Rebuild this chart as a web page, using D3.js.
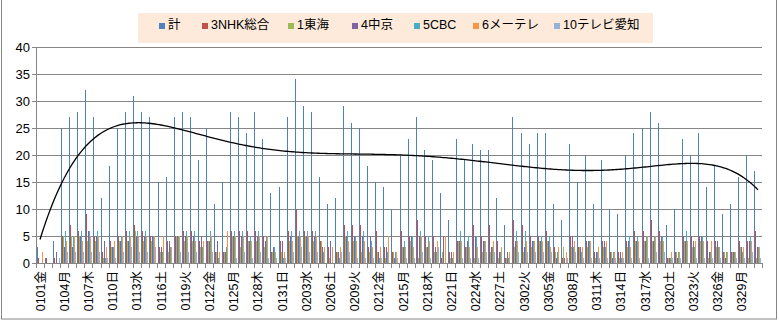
<!DOCTYPE html>
<html><head><meta charset="utf-8">
<script src="https://cdn.jsdelivr.net/npm/d3@7"></script>
<style>
html,body{margin:0;padding:0;background:#fff;}
svg{display:block;}
text{font-family:"Liberation Sans",Arial,"Noto Sans CJK JP",sans-serif;}
</style></head>
<body>
<svg id="chart" width="779" height="324"></svg>
<script>
const categories = [
"0101金","0102土","0103日","0104月","0105火","0106水","0107木","0108金","0109土","0110日",
"0111月","0112火","0113水","0114木","0115金","0116土","0117日","0118月","0119火","0120水",
"0121木","0122金","0123土","0124日","0125月","0126火","0127水","0128木","0129金","0130土",
"0131日","0201月","0202火","0203水","0204木","0205金","0206土","0207日","0208月","0209火",
"0210水","0211木","0212金","0213土","0214日","0215月","0216火","0217水","0218木","0219金",
"0220土","0221日","0222月","0223火","0224水","0225木","0226金","0227土","0228日","0301月",
"0302火","0303水","0304木","0305金","0306土","0307日","0308月","0309火","0310水","0311木",
"0312金","0313土","0314日","0315月","0316火","0317水","0318木","0319金","0320土","0321日",
"0322月","0323火","0324水","0325木","0326金","0327土","0328日","0329月","0330火","0331水"];

const seriesNames = ["計","3NHK総合","1東海","4中京","5CBC","6メーテレ","10テレビ愛知"];
const seriesColors = ["#4F81BD","#C0504D","#9BBB59","#8064A2","#4BACC6","#F79646","#95B3D7"];

const total = [3,1,4,25,27,28,32,27,12,18,25,28,31,28,27,15,16,27,28,27,19,25,11,15,28,27,24,28,23,13,
14,27,34,29,28,16,11,12,29,26,25,18,15,14,10,20,23,27,21,19,13,8,23,19,22,21,21,12,7,27,
24,22,24,24,11,8,22,15,20,11,19,10,9,20,24,25,28,26,7,10,23,20,24,14,18,9,11,16,20,17];
const nhk = [1,1,1,5,7,6,9,5,2,4,5,6,7,6,5,3,4,5,6,6,4,4,2,2,6,6,6,6,5,2,
4,6,10,6,6,4,3,2,7,7,7,3,6,3,2,6,5,8,5,5,1,2,4,3,7,5,7,4,1,8,
7,5,5,6,3,1,5,3,4,2,4,2,2,4,6,6,8,6,1,2,5,5,5,4,4,2,2,4,4,6];
const tokai = [0,0,0,5,5,5,4,4,1,3,4,4,6,4,4,2,2,5,4,4,3,4,2,2,5,3,4,4,3,2,
2,4,5,5,4,4,1,2,5,4,2,2,2,1,2,3,4,1,3,2,2,1,4,3,1,2,2,1,1,3,
2,3,4,4,2,3,3,3,3,1,3,2,1,3,4,4,4,4,1,2,4,3,4,1,3,2,2,3,1,1];
const chukyo = [0,0,2,3,3,5,6,5,4,3,4,4,5,5,5,3,4,5,5,5,5,4,4,2,5,5,4,5,4,3,
4,5,5,5,5,3,4,2,5,5,5,5,2,3,1,3,5,5,3,3,5,2,4,4,5,4,3,2,2,4,
3,4,4,4,1,1,5,3,4,2,4,1,2,4,4,4,4,5,1,1,4,4,5,2,4,1,2,3,4,3];
const cbc = [0,0,0,6,5,6,6,6,1,3,5,6,6,6,5,2,3,5,6,6,3,6,1,3,6,6,5,6,5,3,
1,6,6,6,6,2,0,1,6,5,6,4,1,2,2,4,5,6,5,2,0,1,6,5,5,4,3,2,1,6,
6,4,5,5,2,0,3,2,4,2,3,2,1,5,5,5,5,5,1,2,6,3,5,2,3,2,2,2,5,3];
const mete = [2,0,0,4,5,4,5,5,3,4,5,5,5,5,5,5,3,5,5,4,4,5,2,6,5,5,4,5,5,2,
2,4,5,5,5,3,3,3,4,4,4,3,3,5,2,3,3,5,4,4,5,2,4,3,3,4,4,3,2,4,
4,4,4,3,3,2,4,3,4,3,4,2,2,3,4,5,5,4,2,2,4,4,4,4,3,2,2,3,4,3];
const aichi = [0,0,1,2,2,2,2,2,1,1,2,3,2,2,3,0,0,2,2,2,0,2,0,0,1,2,1,2,1,1,
1,2,3,2,2,0,0,2,2,1,1,1,1,0,1,1,1,2,1,3,0,0,1,1,1,2,2,0,0,2,
2,2,2,2,0,1,2,1,1,1,1,1,1,1,1,1,2,2,1,1,0,1,1,1,1,0,1,1,2,1];

const yTicks = [0,5,10,15,20,25,30,35,40];

const seriesData = [total,nhk,tokai,chukyo,cbc,mete,aichi];

const svg = d3.select("#chart");
const L = 36, R = 762, T = 47, B = 263;

// outer chart border
svg.append("rect").attr("x",1.5).attr("y",-1).attr("width",775).attr("height",320)
  .attr("fill","#fff").attr("stroke","#868686").attr("stroke-width",1);

const x0 = d3.scaleBand().domain(categories).range([L,R]).padding(0);
const x1 = d3.scaleBand().domain(seriesNames).range([0.5, 7.5]).padding(0);
const y = d3.scaleLinear().domain([0,40]).range([B,T]);

// gridlines
svg.append("g").selectAll("line").data(yTicks).join("line")
  .attr("x1",L-4).attr("x2",R).attr("y1",d=>Math.round(y(d))+0.5).attr("y2",d=>Math.round(y(d))+0.5)
  .attr("stroke","#868686").attr("stroke-width",1);

// y axis line
svg.append("line").attr("x1",L+0.5).attr("x2",L+0.5).attr("y1",T).attr("y2",B+5)
  .attr("stroke","#868686");

// y labels
svg.append("g").selectAll("text").data(yTicks).join("text")
  .attr("x",L-6).attr("y",d=>y(d)+4.5).attr("text-anchor","end")
  .attr("font-size",13).attr("fill","#000").text(d=>d);

// bars
const gBars = svg.append("g").attr("shape-rendering","crispEdges");
seriesNames.forEach((name,si)=>{
  gBars.append("g").selectAll("rect").data(seriesData[si]).join("rect")
    .attr("x",(d,i)=>Math.round(x0(categories[i]) + x1(name)))
    .attr("width",1)
    .attr("y",d=>y(d))
    .attr("height",d=>B-y(d))
    .attr("fill",seriesColors[si]);
});

// x axis ticks at category boundaries
const boundaries = categories.map(c=>x0(c)).concat([R]);
svg.append("g").selectAll("line").data(boundaries).join("line")
  .attr("x1",d=>Math.round(d)+0.5).attr("x2",d=>Math.round(d)+0.5)
  .attr("y1",B).attr("y2",B+5).attr("stroke","#868686");
svg.append("line").attr("x1",L).attr("x2",R).attr("y1",B+0.5).attr("y2",B+0.5).attr("stroke","#868686");

// x labels
const labelCats = categories.filter((c,i)=>i%3===0);
svg.append("g").selectAll("text").data(labelCats).join("text")
  .attr("transform",d=>`translate(${x0(d)+x0.bandwidth()/2+4.5},271) rotate(-90)`)
  .attr("text-anchor","end").attr("font-size",12.5).attr("fill","#000").text(d=>d);

// polynomial trendline (order 6) fit to 計
function polyfit(xs, ys, deg){
  const n = deg+1;
  const A = Array.from({length:n},()=>new Array(n).fill(0));
  const b = new Array(n).fill(0);
  xs.forEach((xv,k)=>{
    const p=[]; for(let j=0;j<n;j++) p.push(Math.pow(xv,j));
    for(let r=0;r<n;r++){ b[r]+=p[r]*ys[k]; for(let c=0;c<n;c++) A[r][c]+=p[r]*p[c]; }
  });
  for(let i=0;i<n;i++){
    let mx=i; for(let r=i+1;r<n;r++) if(Math.abs(A[r][i])>Math.abs(A[mx][i])) mx=r;
    [A[i],A[mx]]=[A[mx],A[i]]; [b[i],b[mx]]=[b[mx],b[i]];
    for(let r=i+1;r<n;r++){ const f=A[r][i]/A[i][i]; for(let c=i;c<n;c++) A[r][c]-=f*A[i][c]; b[r]-=f*b[i]; }
  }
  const coef=new Array(n).fill(0);
  for(let i=n-1;i>=0;i--){ let s=b[i]; for(let c=i+1;c<n;c++) s-=A[i][c]*coef[c]; coef[i]=s/A[i][i]; }
  return coef;
}
const N = categories.length;
const norm = i => (i-(N-1)/2)/((N-1)/2);
const coef = polyfit(total.map((d,i)=>norm(i)), total, 6);
const evalP = t => coef.reduce((s,c,j)=>s+c*Math.pow(t,j),0);
const pts = [];
for(let s=0;s<=(N-1)*4;s++){ const i=s/4; pts.push([x0(categories[0])+x0.bandwidth()/2 + i*x0.step(), evalP(norm(i))]); }
svg.append("path").datum(pts)
  .attr("d", d3.line().x(d=>d[0]).y(d=>y(d[1])))
  .attr("fill","none").attr("stroke","#000").attr("stroke-width",1.3);

// legend
svg.append("rect").attr("x",138).attr("y",13).attr("width",515).attr("height",30).attr("fill","#FDEADA");
const legX = [159,202,288,352,414,473,554];
const lg = svg.append("g").selectAll("g").data(seriesNames).join("g")
  .attr("transform",(d,i)=>`translate(${legX[i]},0)`);
lg.append("rect").attr("x",0).attr("y",23).attr("width",6).attr("height",6)
  .attr("fill",(d,i)=>seriesColors[i]);
lg.append("text").attr("x",9).attr("y",29).attr("font-size",12.5).attr("fill","#000").text(d=>d);
</script>
</body></html>
